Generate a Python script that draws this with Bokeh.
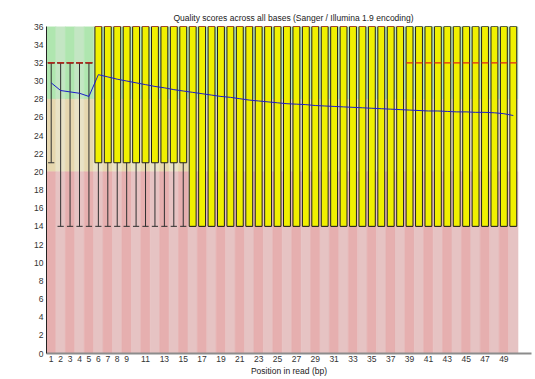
from bokeh.plotting import figure
from bokeh.models import Range1d, FixedTicker, ColumnDataSource
from bokeh.embed import file_html
from bokeh.resources import INLINE

# ---- data ----
positions = [1, 2, 3, 4, 5, 6, 7, 8, 9, 10, 11, 12, 13, 14, 15, 16, 17, 18, 19, 20,
             21, 22, 23, 24, 25, 26, 27, 28, 29, 30, 31, 32, 33, 34, 35, 36, 37, 38, 39, 40,
             41, 42, 43, 44, 45, 46, 47, 48, 49, 50]
median = [32, 32, 32, 32, 32, 36, 36, 36, 36, 36, 36, 36, 36, 36, 36, 36, 36, 36, 36, 36,
          36, 36, 36, 36, 36, 36, 36, 36, 36, 36, 36, 36, 36, 36, 36, 36, 36, 36, 32, 32,
          32, 32, 32, 32, 32, 32, 32, 32, 32, 32]
lower_quartile = [32, 32, 32, 32, 32, 21, 21, 21, 21, 21, 21, 21, 21, 21, 21, 14, 14, 14, 14, 14,
                  14, 14, 14, 14, 14, 14, 14, 14, 14, 14, 14, 14, 14, 14, 14, 14, 14, 14, 14, 14,
                  14, 14, 14, 14, 14, 14, 14, 14, 14, 14]
upper_quartile = [32, 32, 32, 32, 32, 36, 36, 36, 36, 36, 36, 36, 36, 36, 36, 36, 36, 36, 36, 36,
                  36, 36, 36, 36, 36, 36, 36, 36, 36, 36, 36, 36, 36, 36, 36, 36, 36, 36, 36, 36,
                  36, 36, 36, 36, 36, 36, 36, 36, 36, 36]
percentile_10 = [21, 14, 14, 14, 14, 14, 14, 14, 14, 14, 14, 14, 14, 14, 14, 14, 14, 14, 14, 14,
                 14, 14, 14, 14, 14, 14, 14, 14, 14, 14, 14, 14, 14, 14, 14, 14, 14, 14, 14, 14,
                 14, 14, 14, 14, 14, 14, 14, 14, 14, 14]
percentile_90 = [32, 32, 32, 32, 32, 36, 36, 36, 36, 36, 36, 36, 36, 36, 36, 36, 36, 36, 36, 36,
                 36, 36, 36, 36, 36, 36, 36, 36, 36, 36, 36, 36, 36, 36, 36, 36, 36, 36, 36, 36,
                 36, 36, 36, 36, 36, 36, 36, 36, 36, 36]
mean_quality = [29.8, 28.95, 28.8, 28.65, 28.3, 30.7, 30.45, 30.2, 30.0, 29.8,
                29.6, 29.4, 29.25, 29.05, 28.9, 28.75, 28.6, 28.45, 28.3, 28.2,
                28.05, 27.9, 27.8, 27.7, 27.6, 27.5, 27.45, 27.4, 27.3, 27.25,
                27.2, 27.15, 27.1, 27.05, 27.0, 26.95, 26.9, 26.85, 26.8, 26.75,
                26.7, 26.7, 26.65, 26.6, 26.6, 26.55, 26.55, 26.5, 26.4, 26.2]

x_ticks = [1, 2, 3, 4, 5, 6, 7, 8, 9, 11, 13, 15, 17, 19, 21, 23, 25, 27, 29, 31,
           33, 35, 37, 39, 41, 43, 45, 47, 49]
y_ticks = [0, 2, 4, 6, 8, 10, 12, 14, 16, 18, 20, 22, 24, 26, 28, 30, 32, 34, 36]

zone_bottom = [28, 20, 0]
zone_top = [36, 28, 20]
zone_dark = ["#afe6af", "#e6d7af", "#e6afaf"]
zone_light = ["#c3e6c3", "#e9e2c6", "#e6c3c3"]

title_text = "Quality scores across all bases (Sanger / Illumina 1.9 encoding)"
x_title = "Position in read (bp)"

FONT = "Liberation Sans"
FSIZE = "8.5px"

# ---- figure ----
p = figure(width=535, height=379, x_range=Range1d(0.5, 51.93), y_range=Range1d(0, 36),
           output_backend="svg", toolbar_location=None,
           min_border_left=46, min_border_right=4, min_border_top=26, min_border_bottom=26)
p.outline_line_color = None
p.grid.visible = False
p.background_fill_color = "white"
p.border_fill_color = "white"

p.title.text = title_text
p.title.align = "left"
p.title.offset = 127
p.title.standoff = 7
p.title.text_font = FONT
p.title.text_font_size = FSIZE
p.title.text_font_style = "normal"
p.title.text_color = "#222222"

# background stripes
bl, br, bb, bt, bc = [], [], [], [], []
for i, pos in enumerate(positions):
    for z in range(len(zone_top)):
        bl.append(pos - 0.5)
        br.append(pos + 0.5)
        bb.append(zone_bottom[z])
        bt.append(zone_top[z])
        bc.append(zone_dark[z] if i % 2 == 0 else zone_light[z])
p.quad(left=bl, right=br, bottom=bb, top=bt, fill_color=bc, line_color=bc, line_width=0.6)

box_w = 0.73
cap_w = 0.66
src = ColumnDataSource(dict(
    x=positions,
    med=median, q1=lower_quartile, q3=upper_quartile, p10=percentile_10, p90=percentile_90,
    mean=mean_quality,
    xl=[v - box_w / 2 for v in positions], xr=[v + box_w / 2 for v in positions],
    cl=[v - cap_w / 2 for v in positions], cr=[v + cap_w / 2 for v in positions],
))

# whiskers
p.segment(x0="x", y0="p10", x1="x", y1="p90", source=src, line_color="#303030", line_width=1)
p.segment(x0="cl", y0="p10", x1="cr", y1="p10", source=src, line_color="#303030", line_width=1)
p.segment(x0="cl", y0="p90", x1="cr", y1="p90", source=src, line_color="#303030", line_width=1)

# boxes
p.vbar(x="x", width=box_w, bottom="q1", top="q3", source=src,
       fill_color="#f0f000", line_color="#202020", line_width=1)

# medians
p.segment(x0="xl", y0="med", x1="xr", y1="med", source=src, line_color="#e02a18", line_width=1.2)

# mean
p.line(x="x", y="mean", source=src, line_color="#1c1cc8", line_width=1)

# axes
p.xaxis.ticker = FixedTicker(ticks=x_ticks)
p.yaxis.ticker = FixedTicker(ticks=y_ticks)
for ax in (p.xaxis, p.yaxis):
    ax.major_tick_line_color = None
    ax.minor_tick_line_color = None
    ax.major_tick_out = 0
    ax.major_tick_in = 0
    ax.major_label_text_font = FONT
    ax.major_label_text_font_size = FSIZE
    ax.major_label_text_color = "#333333"
p.xaxis.axis_line_color = "#8c8c8c"
p.xaxis.axis_line_width = 2
p.xaxis.major_label_standoff = 2
p.xaxis.axis_label = x_title
p.xaxis.axis_label_standoff = 1
p.xaxis.axis_label_text_font = FONT
p.xaxis.axis_label_text_font_size = FSIZE
p.xaxis.axis_label_text_font_style = "normal"
p.xaxis.axis_label_text_color = "#222222"
p.yaxis.axis_line_color = "#222222"
p.yaxis.axis_line_width = 1
p.yaxis.major_label_standoff = 3

open("out.html", "w").write(file_html(p, INLINE))
